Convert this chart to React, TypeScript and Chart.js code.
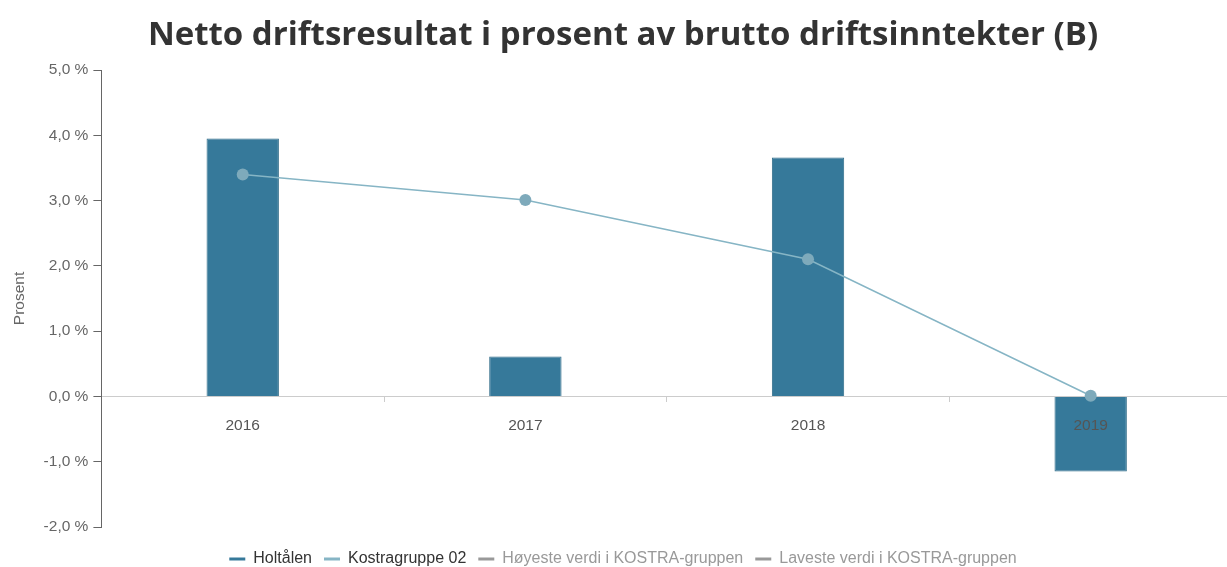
import React, { useEffect, useRef } from 'react';
import { Chart, registerables } from 'chart.js';

Chart.register(...registerables);

const categories = ['2016', '2017', '2018', '2019'];
const holtalenValues = [3.95, 0.61, 3.66, -1.15];
const kostraValues = [3.4, 3.01, 2.1, 0.01];
const seriesNames = [
  'Holtålen',
  'Kostragruppe 02',
  'Høyeste verdi i KOSTRA-gruppen',
  'Laveste verdi i KOSTRA-gruppen',
];
const yMin = -2;
const yMax = 5;
const yStep = 1;
const chartTitle = 'Netto driftsresultat i prosent av brutto driftsinntekter (B)';
const yAxisTitle = 'Prosent';

const BAR_COLOR = '#36799a';
const BAR_BORDER = '#2e6b88';
const LINE_COLOR = '#86b5c5';
const POINT_COLOR = '#7eaabb';
const GREY = '#999999';
const SMALL_FONT = '"Liberation Sans", Arial, sans-serif';
const SMALL_SIZE = 15.5;

export default function App() {
  const canvasRef = useRef<HTMLCanvasElement | null>(null);

  useEffect(() => {
    if (!canvasRef.current) return;
    const chart = new Chart(canvasRef.current, {
      data: {
        labels: categories,
        datasets: [
          {
            type: 'bar',
            label: seriesNames[0],
            data: holtalenValues,
            backgroundColor: BAR_COLOR,
            borderColor: BAR_BORDER,
            borderWidth: 1,
            barPercentage: 0.256,
            categoryPercentage: 1,
            order: 2,
          },
          {
            type: 'line',
            label: seriesNames[1],
            data: kostraValues,
            borderColor: LINE_COLOR,
            borderWidth: 1.5,
            backgroundColor: POINT_COLOR,
            pointBackgroundColor: POINT_COLOR,
            pointBorderWidth: 0,
            pointRadius: 6,
            tension: 0,
            order: 0,
          },
          {
            type: 'line',
            label: seriesNames[2],
            data: [],
            borderColor: GREY,
            order: 1,
          },
          {
            type: 'line',
            label: seriesNames[3],
            data: [],
            borderColor: GREY,
            order: 1,
          },
        ],
      },
      options: {
        animation: false,
        responsive: true,
        maintainAspectRatio: false,
        layout: { padding: { left: 14, right: 13, top: 0, bottom: 0 } },
        plugins: {
          title: {
            display: true,
            text: chartTitle,
            color: '#333333',
            font: { family: '"Open Sans"', size: 33, weight: 'bold' },
            padding: { top: 16, bottom: 14.4 },
          },
          tooltip: { enabled: false },
          legend: {
            position: 'bottom',
            title: {
              display: true,
              text: ' ',
              font: { size: 10 },
              padding: 0,
            },
            labels: {
              boxWidth: 16,
              boxHeight: 3,
              padding: 12,
              font: { family: SMALL_FONT, size: 16 },
              color: '#333333',
              generateLabels: (c: any) =>
                c.data.datasets.map((ds: any, i: number) => ({
                  text: ds.label,
                  fillStyle: i === 0 ? BAR_COLOR : i === 1 ? LINE_COLOR : GREY,
                  strokeStyle: i === 0 ? BAR_COLOR : i === 1 ? LINE_COLOR : GREY,
                  lineWidth: 0,
                  hidden: false,
                  fontColor: i < 2 ? '#333333' : GREY,
                  datasetIndex: i,
                })),
            },
          },
        },
        scales: {
          x: {
            type: 'category',
            position: { y: 0 },
            offset: true,
            grid: {
              offset: true,
              drawOnChartArea: false,
              drawTicks: true,
              tickLength: 5,
              color: '#cccccc',
            },
            border: { display: true, color: '#cccccc', width: 1 },
            ticks: {
              z: 1,
              color: '#555555',
              padding: 15,
              font: { family: SMALL_FONT, size: SMALL_SIZE },
            },
          },
          y: {
            type: 'linear',
            min: yMin,
            max: yMax,
            grid: {
              drawOnChartArea: false,
              drawTicks: true,
              tickLength: 8,
              color: '#666666',
            },
            border: { display: true, color: '#666666', width: 1 },
            ticks: {
              stepSize: yStep,
              color: '#666666',
              padding: 5,
              font: { family: SMALL_FONT, size: SMALL_SIZE },
              callback: (v: any) => `${Number(v).toFixed(1).replace('.', ',')} %`,
            },
            title: {
              display: true,
              text: yAxisTitle,
              color: '#666666',
              font: { family: SMALL_FONT, size: SMALL_SIZE },
              padding: { top: -4, bottom: 10 },
            },
          },
        },
      },
    } as any);
    return () => chart.destroy();
  }, []);

  return (
    <div style={{ position: 'fixed', left: 0, top: 0, width: 1245, height: 577 }}>
      <canvas ref={canvasRef} />
    </div>
  );
}
